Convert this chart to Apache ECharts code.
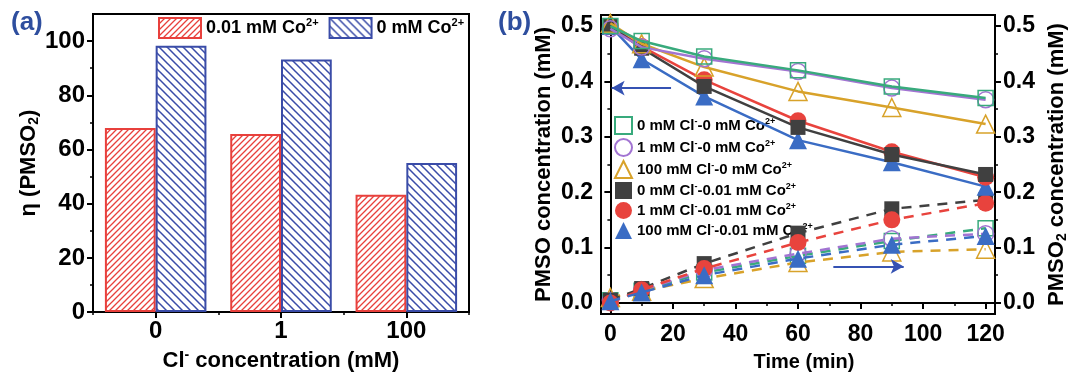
<!DOCTYPE html>
<html><head><meta charset="utf-8">
<script src="https://cdn.jsdelivr.net/npm/echarts@6/dist/echarts.min.js"></script>
<style>html,body{margin:0;padding:0;background:#fff}#c{width:1070px;height:377px}</style>
</head><body><div id="c"></div>
<script>
// ---------- Panel (a) data ----------
const clCategories = ['0', '1', '100'];
const etaCo001 = [67.9, 65.7, 43.3];
const etaCo0 = [98.3, 93.2, 55.0];
const etaTicks = [0, 20, 40, 60, 80, 100];
const etaMinorTicks = [10, 30, 50, 70, 90];

// ---------- Panel (b) data ----------
const timePoints = [0, 10, 30, 60, 90, 120];
const timeTicks = [0, 20, 40, 60, 80, 100, 120];
const timeMinorTicks = [10, 30, 50, 70, 90, 110];
const concTicks = [0, 0.1, 0.2, 0.3, 0.4, 0.5];
const concMinorTicks = [0.05, 0.15, 0.25, 0.35, 0.45];

const seriesNames = ['0Cl-0Co', '1Cl-0Co', '100Cl-0Co', '0Cl-001Co', '1Cl-001Co', '100Cl-001Co'];
const seriesLabels = [
  ['0 mM Cl', '0 mM Co'], ['1 mM Cl', '0 mM Co'], ['100 mM Cl', '0 mM Co'],
  ['0 mM Cl', '0.01 mM Co'], ['1 mM Cl', '0.01 mM Co'], ['100 mM Cl', '0.01 mM Co']
];
// PMSO (solid lines, left axis)
const pmso_0Cl_0Co = [0.500, 0.473, 0.445, 0.420, 0.391, 0.370];
const pmso_1Cl_0Co = [0.495, 0.462, 0.441, 0.418, 0.388, 0.367];
const pmso_100Cl_0Co = [0.505, 0.468, 0.426, 0.382, 0.353, 0.323];
const pmso_0Cl_001Co = [0.500, 0.460, 0.391, 0.317, 0.268, 0.232];
const pmso_1Cl_001Co = [0.500, 0.463, 0.403, 0.329, 0.273, 0.227];
const pmso_100Cl_001Co = [0.500, 0.440, 0.373, 0.294, 0.254, 0.210];
// PMSO2 (dashed lines, right axis)
const pmso2_0Cl_0Co = [0.005, 0.022, 0.055, 0.085, 0.112, 0.135];
const pmso2_1Cl_0Co = [0.005, 0.023, 0.059, 0.089, 0.116, 0.125];
const pmso2_100Cl_0Co = [0.010, 0.021, 0.044, 0.073, 0.092, 0.097];
const pmso2_0Cl_001Co = [0.005, 0.026, 0.071, 0.126, 0.170, 0.186];
const pmso2_1Cl_001Co = [0.000, 0.024, 0.062, 0.109, 0.150, 0.180];
const pmso2_100Cl_001Co = [0.003, 0.019, 0.050, 0.080, 0.105, 0.121];

// arrows (data coordinates: [time, conc])
const leftArrow = [[19.4, 0.388], [0.4, 0.388]];
const rightArrow = [[71.3, 0.066], [93.8, 0.066]];

const pmsoSets = [pmso_0Cl_0Co, pmso_1Cl_0Co, pmso_100Cl_0Co, pmso_0Cl_001Co, pmso_1Cl_001Co, pmso_100Cl_001Co];
const pmso2Sets = [pmso2_0Cl_0Co, pmso2_1Cl_0Co, pmso2_100Cl_0Co, pmso2_0Cl_001Co, pmso2_1Cl_001Co, pmso2_100Cl_001Co];

const COL = ['#38aa7c', '#a274d2', '#d8a22a', '#404040', '#e8433d', '#3a6cc4'];
const SYM = ['rect', 'circle', 'triangle', 'rect', 'circle', 'triangle'];
const SYMSIZE = [15, 16, 18, 15, 17, 18];
const HOLLOW = [true, true, true, false, false, false];

const RED = '#e8403c', BLUE = '#3a4ca8', LABC = '#2e4e9e';
const FONT = '"Liberation Sans", Arial, sans-serif';

function hatch(color, size, dir, lw) {
  const c = document.createElement('canvas');
  c.width = c.height = size;
  const g = c.getContext('2d');
  g.fillStyle = '#fff'; g.fillRect(0, 0, size, size);
  g.strokeStyle = color; g.lineWidth = lw; g.beginPath();
  if (dir > 0) {
    g.moveTo(0, size); g.lineTo(size, 0);
    g.moveTo(-size, size); g.lineTo(size, -size);
    g.moveTo(0, 2 * size); g.lineTo(2 * size, 0);
  } else {
    g.moveTo(0, 0); g.lineTo(size, size);
    g.moveTo(-size, 0); g.lineTo(size, 2 * size);
    g.moveTo(0, -size); g.lineTo(2 * size, size);
  }
  g.stroke();
  return c;
}

const richBase = (fs) => ({
  b: { fontSize: fs, fontWeight: 'bold', fontFamily: FONT, color: '#000' },
  sup: { fontSize: Math.round(fs * 0.62), fontWeight: 'bold', fontFamily: FONT, color: '#000', padding: [0, 0, Math.round(fs * 0.55), 0] },
  sub: { fontSize: Math.round(fs * 0.62), fontWeight: 'bold', fontFamily: FONT, color: '#000', padding: [Math.round(fs * 0.45), 0, 0, 0] }
});

const chart = echarts.init(document.getElementById('c'), null, { renderer: 'canvas' });

const tickLabelA = { fontSize: 24, fontWeight: 'bold', fontFamily: FONT, color: '#000' };
const tickLabelB = { fontSize: 23, fontWeight: 'bold', fontFamily: FONT, color: '#000' };
const axisLineStyle = { show: true, lineStyle: { color: '#000', width: 2 } };

// axis indices
const XA = 0, XB = 2, YA = 0, YB_LEFT = 2, YB_RIGHT = 4;

const series = [];
series.push({
  type: 'bar', name: 'a1', xAxisIndex: XA, yAxisIndex: YA, data: etaCo001,
  barWidth: '40.5%', barGap: '0%',
  itemStyle: { color: { image: hatch(RED, 6, 1, 1.3), repeat: 'repeat' }, borderColor: RED, borderWidth: 2 }
});
series.push({
  type: 'bar', name: 'a2', xAxisIndex: XA, yAxisIndex: YA, data: etaCo0,
  barWidth: '40.5%', barGap: '0%',
  itemStyle: { color: { image: hatch(BLUE, 8, -1, 1.5), repeat: 'repeat' }, borderColor: BLUE, borderWidth: 2 }
});

for (let i = 0; i < 6; i++) {
  const iStyle = HOLLOW[i]
    ? { color: 'rgba(255,255,255,0)', borderColor: COL[i], borderWidth: 1.5 }
    : { color: COL[i], borderColor: COL[i], borderWidth: 0 };
  series.push({
    type: 'line', name: seriesNames[i], xAxisIndex: XB, yAxisIndex: YB_RIGHT,
    data: timePoints.map((t, k) => [t, pmso2Sets[i][k]]),
    symbol: SYM[i], symbolSize: SYMSIZE[i], showAllSymbol: true,
    lineStyle: { color: COL[i], width: 2.5, type: [10, 8] },
    itemStyle: iStyle, z: 2 + i, animation: false
  });
}
for (let i = 0; i < 6; i++) {
  const iStyle = HOLLOW[i]
    ? { color: 'rgba(255,255,255,0)', borderColor: COL[i], borderWidth: 1.5 }
    : { color: COL[i], borderColor: COL[i], borderWidth: 0 };
  const s = {
    type: 'line', name: seriesNames[i], xAxisIndex: XB, yAxisIndex: YB_LEFT,
    data: timePoints.map((t, k) => [t, pmsoSets[i][k]]),
    symbol: SYM[i], symbolSize: SYMSIZE[i], showAllSymbol: true,
    lineStyle: { color: COL[i], width: 2.5 },
    itemStyle: iStyle, z: 10 + (5 - i), animation: false
  };
  if (i === 0) {
    s.markLine = {
      silent: true, animation: false, symbol: ['none', 'arrow'], symbolSize: [11, 13],
      label: { show: false },
      lineStyle: { color: '#3552b3', width: 2, type: 'solid' },
      data: [
        [{ coord: leftArrow[0] }, { coord: leftArrow[1] }],
        [{ coord: rightArrow[0] }, { coord: rightArrow[1] }]
      ]
    };
  }
  series.push(s);
}

const option = {
  animation: false,
  backgroundColor: '#fff',
  textStyle: { fontFamily: FONT },
  grid: [
    { left: 93, width: 376, top: 14, height: 302, show: true, borderColor: '#000', borderWidth: 2, containLabel: false },
    { left: 601, width: 396, top: 15, height: 300, show: true, borderColor: '#000', borderWidth: 2, containLabel: false }
  ],
  xAxis: [
    {
      type: 'category', gridIndex: 0, data: clCategories, position: 'bottom',
      axisLine: axisLineStyle,
      axisTick: { show: true, alignWithLabel: true, length: 6, lineStyle: { color: '#000', width: 2 } },
      axisLabel: Object.assign({ margin: 7 }, tickLabelA),
      splitLine: { show: false },
      name: '{b|Cl}{sup|-}{b| concentration (mM)}', nameLocation: 'middle', nameGap: 29,
      nameTextStyle: { rich: richBase(22) }
    },
    {
      type: 'category', gridIndex: 0, data: clCategories, position: 'bottom',
      axisLine: { show: false },
      axisTick: { show: true, alignWithLabel: false, length: 3, lineStyle: { color: '#000', width: 1.5 } },
      axisLabel: { show: false }, splitLine: { show: false }
    },
    {
      type: 'value', gridIndex: 1, min: -3, max: 123, position: 'bottom',
      axisLine: axisLineStyle,
      axisTick: { show: true, length: 6, customValues: timeTicks, lineStyle: { color: '#000', width: 2 } },
      axisLabel: Object.assign({ margin: 9, customValues: timeTicks }, tickLabelB),
      splitLine: { show: false },
      name: 'Time (min)', nameLocation: 'middle', nameGap: 38,
      nameTextStyle: { fontSize: 20, fontWeight: 'bold', color: '#000', fontFamily: FONT, padding: [0, 0, 0, 12] }
    },
    {
      type: 'value', gridIndex: 1, min: -3, max: 123, position: 'bottom',
      axisLine: { show: false },
      axisTick: { show: true, length: 3, customValues: timeMinorTicks, lineStyle: { color: '#000', width: 1.5 } },
      axisLabel: { show: false }, splitLine: { show: false }
    }
  ],
  yAxis: [
    {
      type: 'value', gridIndex: 0, min: 0, max: 110, position: 'left',
      axisLine: axisLineStyle,
      axisTick: { show: true, length: 6, customValues: etaTicks, lineStyle: { color: '#000', width: 2 } },
      axisLabel: Object.assign({ margin: 8, customValues: etaTicks }, tickLabelA),
      splitLine: { show: false },
      name: '{b|η (PMSO}{sub|2}{b|)}', nameLocation: 'middle', nameGap: 51, nameRotate: 90,
      nameTextStyle: { rich: richBase(22) }
    },
    {
      type: 'value', gridIndex: 0, min: 0, max: 110, position: 'left',
      axisLine: { show: false },
      axisTick: { show: true, length: 3, customValues: etaMinorTicks, lineStyle: { color: '#000', width: 1.5 } },
      axisLabel: { show: false }, splitLine: { show: false }
    },
    {
      type: 'value', gridIndex: 1, min: -0.02, max: 0.52, position: 'left',
      axisLine: axisLineStyle,
      axisTick: { show: true, length: 6, customValues: concTicks, lineStyle: { color: '#000', width: 2 } },
      axisLabel: Object.assign({ margin: 8, customValues: concTicks, formatter: v => v.toFixed(1) }, tickLabelB),
      splitLine: { show: false },
      name: 'PMSO concentration (mM)', nameLocation: 'middle', nameGap: 46, nameRotate: 90,
      nameTextStyle: { fontSize: 22, fontWeight: 'bold', color: '#000', fontFamily: FONT }
    },
    {
      type: 'value', gridIndex: 1, min: -0.02, max: 0.52, position: 'left',
      axisLine: { show: false },
      axisTick: { show: true, length: 3, customValues: concMinorTicks, lineStyle: { color: '#000', width: 1.5 } },
      axisLabel: { show: false }, splitLine: { show: false }
    },
    {
      type: 'value', gridIndex: 1, min: -0.02, max: 0.52, position: 'right',
      axisLine: axisLineStyle,
      axisTick: { show: true, length: 6, customValues: concTicks, lineStyle: { color: '#000', width: 2 } },
      axisLabel: Object.assign({ margin: 8, customValues: concTicks, formatter: v => v.toFixed(1) }, tickLabelB),
      splitLine: { show: false },
      name: '{b|PMSO}{sub|2}{b| concentration (mM)}', nameLocation: 'middle', nameGap: 50, nameRotate: 90,
      nameTextStyle: { rich: richBase(22) }
    },
    {
      type: 'value', gridIndex: 1, min: -0.02, max: 0.52, position: 'right',
      axisLine: { show: false },
      axisTick: { show: true, length: 3, customValues: concMinorTicks, lineStyle: { color: '#000', width: 1.5 } },
      axisLabel: { show: false }, splitLine: { show: false }
    }
  ],
  legend: [
    {
      data: [{ name: 'a1', icon: 'rect' }, { name: 'a2', icon: 'rect' }],
      orient: 'horizontal', left: 158, top: 17, padding: 0, itemWidth: 42, itemHeight: 20, itemGap: 10,
      formatter: n => n === 'a1' ? '{b|0.01 mM Co}{sup|2+}' : '{b|0 mM Co}{sup|2+}',
      textStyle: { rich: richBase(18) }
    },
    {
      data: seriesNames.map((n, i) => ({ name: n, icon: SYM[i] })),
      orient: 'vertical', left: 614, top: 116, padding: 0, itemWidth: 17, itemHeight: 17, itemGap: 3,
      formatter: n => {
        const l = seriesLabels[seriesNames.indexOf(n)];
        return '{b|' + l[0] + '}{sup|-}{b|-' + l[1] + '}{sup|2+}';
      },
      textStyle: { rich: richBase(15) }
    }
  ],
  graphic: [
    { type: 'text', left: 11, top: 10, style: { text: '(a)', fontSize: 26, fontWeight: 'bold', fontFamily: FONT, fill: LABC } },
    { type: 'text', left: 498, top: 10, style: { text: '(b)', fontSize: 26, fontWeight: 'bold', fontFamily: FONT, fill: LABC } }
  ],
  series: series
};
chart.setOption(option);
</script>
</body></html>
